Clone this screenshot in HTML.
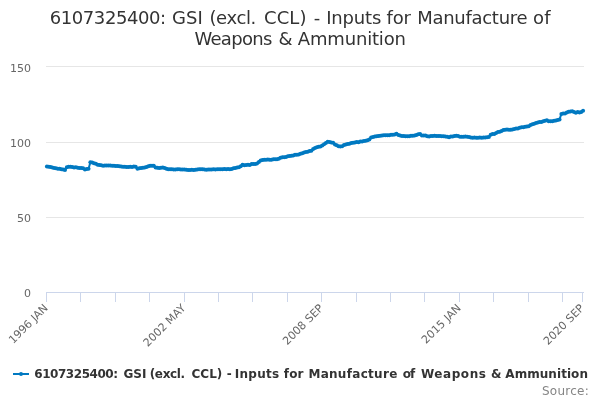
<!DOCTYPE html>
<html><head><meta charset="utf-8"><title>6107325400: GSI (excl. CCL) - Inputs for Manufacture of Weapons &amp; Ammunition</title>
<style>
html,body{margin:0;padding:0;background:#fff;}
body{width:600px;height:400px;overflow:hidden;font-family:"DejaVu Sans", "Liberation Sans", sans-serif;}
svg{display:block;font-family:"DejaVu Sans", "Liberation Sans", sans-serif;}
</style></head><body>
<svg width="600" height="400" viewBox="0 0 600 400">
<rect x="0" y="0" width="600" height="400" fill="#FFFFFF"/>
<g class="grid"><path d="M 46 66.5 L 584 66.5" stroke="#E6E6E6" stroke-width="1" fill="none"/><path d="M 46 142.5 L 584 142.5" stroke="#E6E6E6" stroke-width="1" fill="none"/><path d="M 46 217.5 L 584 217.5" stroke="#E6E6E6" stroke-width="1" fill="none"/></g>
<g class="xaxis"><path d="M 46.5 292 L 46.5 302 M 80.5 292 L 80.5 302 M 115.5 292 L 115.5 302 M 149.5 292 L 149.5 302 M 184.5 292 L 184.5 302 M 218.5 292 L 218.5 302 M 252.5 292 L 252.5 302 M 287.5 292 L 287.5 302 M 321.5 292 L 321.5 302 M 356.5 292 L 356.5 302 M 390.5 292 L 390.5 302 M 424.5 292 L 424.5 302 M 459.5 292 L 459.5 302 M 493.5 292 L 493.5 302 M 528.5 292 L 528.5 302 M 562.5 292 L 562.5 302 M 582.5 292 L 582.5 302" stroke="#CCD6EB" stroke-width="1" fill="none"/><path d="M 46 292.5 L 584 292.5" stroke="#CCD6EB" stroke-width="1" fill="none"/></g>
<g class="series"><path d="M 46.91 166.51 L 48.72 166.82 L 50.53 166.97 L 52.34 167.40 L 54.15 168.01 L 55.96 168.32 L 57.77 168.63 L 59.59 168.78 L 61.40 169.20 L 63.21 169.55 L 65.02 169.88 L 66.83 167.13 L 68.64 166.65 L 70.45 166.71 L 72.27 167.01 L 74.08 167.48 L 75.89 167.37 L 77.70 167.68 L 79.51 168.09 L 81.32 167.89 L 83.13 168.34 L 84.95 169.50 L 86.76 168.93 L 88.57 168.82 L 90.38 162.28 L 92.19 162.54 L 94.00 163.31 L 95.81 163.86 L 97.63 164.87 L 99.44 165.09 L 101.25 165.27 L 103.06 165.70 L 104.87 165.57 L 106.68 165.54 L 108.49 165.42 L 110.31 165.55 L 112.12 165.69 L 113.93 165.66 L 115.74 165.94 L 117.55 165.98 L 119.36 166.23 L 121.18 166.40 L 122.99 166.74 L 124.80 166.83 L 126.61 167.08 L 128.42 167.00 L 130.23 166.66 L 132.04 166.88 L 133.86 166.56 L 135.67 166.81 L 137.48 168.72 L 139.29 168.29 L 141.10 167.96 L 142.91 167.71 L 144.72 167.46 L 146.54 166.88 L 148.35 166.22 L 150.16 165.79 L 151.97 165.71 L 153.78 165.79 L 155.59 167.50 L 157.40 167.83 L 159.22 168.00 L 161.03 167.77 L 162.84 167.54 L 164.65 167.88 L 166.46 168.70 L 168.27 169.20 L 170.08 169.30 L 171.90 169.29 L 173.71 169.60 L 175.52 169.44 L 177.33 169.32 L 179.14 169.18 L 180.95 169.47 L 182.76 169.51 L 184.58 169.52 L 186.39 169.77 L 188.20 169.92 L 190.01 169.91 L 191.82 169.85 L 193.63 169.96 L 195.44 169.64 L 197.26 169.45 L 199.07 169.13 L 200.88 169.16 L 202.69 169.28 L 204.50 169.57 L 206.31 169.77 L 208.12 169.62 L 209.94 169.62 L 211.75 169.62 L 213.56 169.17 L 215.37 169.48 L 217.18 169.16 L 218.99 169.19 L 220.80 169.35 L 222.62 169.33 L 224.43 169.09 L 226.24 169.34 L 228.05 169.09 L 229.86 169.24 L 231.67 168.94 L 233.48 168.27 L 235.30 167.94 L 237.11 167.60 L 238.92 167.24 L 240.73 166.16 L 242.54 164.78 L 244.35 165.16 L 246.16 165.12 L 247.98 164.87 L 249.79 165.02 L 251.60 164.05 L 253.41 164.06 L 255.22 164.03 L 257.03 163.59 L 258.85 161.96 L 260.66 160.47 L 262.47 159.94 L 264.28 159.68 L 266.09 159.78 L 267.90 159.55 L 269.71 159.77 L 271.53 159.76 L 273.34 159.19 L 275.15 159.21 L 276.96 159.13 L 278.77 158.64 L 280.58 157.77 L 282.39 157.15 L 284.21 157.20 L 286.02 156.95 L 287.83 156.37 L 289.64 156.07 L 291.45 155.80 L 293.26 155.45 L 295.07 154.80 L 296.89 154.67 L 298.70 154.39 L 300.51 153.85 L 302.32 153.25 L 304.13 152.50 L 305.94 151.90 L 307.75 151.77 L 309.57 151.07 L 311.38 150.68 L 313.19 148.94 L 315.00 147.96 L 316.81 147.15 L 318.62 146.64 L 320.43 146.41 L 322.25 145.39 L 324.06 144.17 L 325.87 142.94 L 327.68 141.68 L 329.49 142.07 L 331.30 142.51 L 333.11 142.82 L 334.93 144.59 L 336.74 145.23 L 338.55 146.35 L 340.36 146.44 L 342.17 146.28 L 343.98 145.02 L 345.79 144.61 L 347.61 144.05 L 349.42 143.79 L 351.23 143.04 L 353.04 142.77 L 354.85 142.40 L 356.66 142.07 L 358.47 142.15 L 360.29 141.49 L 362.10 141.48 L 363.91 140.91 L 365.72 140.74 L 367.53 140.16 L 369.34 139.46 L 371.15 137.51 L 372.97 137.10 L 374.78 136.59 L 376.59 136.35 L 378.40 135.89 L 380.21 135.69 L 382.02 135.55 L 383.84 135.35 L 385.65 135.14 L 387.46 135.32 L 389.27 135.14 L 391.08 134.69 L 392.89 134.68 L 394.70 134.48 L 396.52 133.68 L 398.33 135.10 L 400.14 135.48 L 401.95 135.94 L 403.76 135.97 L 405.57 136.37 L 407.38 136.24 L 409.20 136.21 L 411.01 135.81 L 412.82 135.74 L 414.63 135.46 L 416.44 134.95 L 418.25 134.31 L 420.06 133.98 L 421.88 135.39 L 423.69 135.59 L 425.50 135.59 L 427.31 136.18 L 429.12 136.40 L 430.93 136.08 L 432.74 136.06 L 434.56 135.73 L 436.37 136.05 L 438.18 135.89 L 439.99 135.99 L 441.80 136.23 L 443.61 136.16 L 445.42 136.48 L 447.24 136.72 L 449.05 137.14 L 450.86 136.57 L 452.67 136.57 L 454.48 136.03 L 456.29 135.68 L 458.10 136.03 L 459.92 136.78 L 461.73 136.84 L 463.54 136.76 L 465.35 136.59 L 467.16 136.83 L 468.97 136.88 L 470.78 137.51 L 472.60 137.74 L 474.41 137.61 L 476.22 137.71 L 478.03 137.76 L 479.84 137.59 L 481.65 137.73 L 483.46 137.43 L 485.28 137.51 L 487.09 137.37 L 488.90 136.92 L 490.71 134.66 L 492.52 134.12 L 494.33 133.91 L 496.14 132.92 L 497.96 131.98 L 499.77 131.82 L 501.58 131.11 L 503.39 129.93 L 505.20 129.77 L 507.01 129.60 L 508.82 129.86 L 510.64 129.73 L 512.45 129.49 L 514.26 128.98 L 516.07 128.49 L 517.88 128.39 L 519.69 127.63 L 521.51 127.28 L 523.32 127.26 L 525.13 126.78 L 526.94 126.46 L 528.75 126.37 L 530.56 125.07 L 532.37 124.27 L 534.19 123.69 L 536.00 123.07 L 537.81 122.48 L 539.62 122.09 L 541.43 121.97 L 543.24 121.29 L 545.05 120.75 L 546.87 120.31 L 548.68 121.13 L 550.49 121.35 L 552.30 121.27 L 554.11 120.64 L 555.92 120.60 L 557.73 120.01 L 559.55 119.40 L 561.36 113.94 L 563.17 113.46 L 564.98 113.40 L 566.79 112.61 L 568.60 111.72 L 570.41 111.53 L 572.23 111.35 L 574.04 112.05 L 575.85 112.70 L 577.66 111.90 L 579.47 112.40 L 581.28 112.12 L 583.09 110.80" fill="none" stroke="#0079C1" stroke-width="2" stroke-linejoin="round" stroke-linecap="round"/><g fill="#0079C1"><circle cx="46.91" cy="166.51" r="2"/><circle cx="48.72" cy="166.82" r="2"/><circle cx="50.53" cy="166.97" r="2"/><circle cx="52.34" cy="167.40" r="2"/><circle cx="54.15" cy="168.01" r="2"/><circle cx="55.96" cy="168.32" r="2"/><circle cx="57.77" cy="168.63" r="2"/><circle cx="59.59" cy="168.78" r="2"/><circle cx="61.40" cy="169.20" r="2"/><circle cx="63.21" cy="169.55" r="2"/><circle cx="65.02" cy="169.88" r="2"/><circle cx="66.83" cy="167.13" r="2"/><circle cx="68.64" cy="166.65" r="2"/><circle cx="70.45" cy="166.71" r="2"/><circle cx="72.27" cy="167.01" r="2"/><circle cx="74.08" cy="167.48" r="2"/><circle cx="75.89" cy="167.37" r="2"/><circle cx="77.70" cy="167.68" r="2"/><circle cx="79.51" cy="168.09" r="2"/><circle cx="81.32" cy="167.89" r="2"/><circle cx="83.13" cy="168.34" r="2"/><circle cx="84.95" cy="169.50" r="2"/><circle cx="86.76" cy="168.93" r="2"/><circle cx="88.57" cy="168.82" r="2"/><circle cx="90.38" cy="162.28" r="2"/><circle cx="92.19" cy="162.54" r="2"/><circle cx="94.00" cy="163.31" r="2"/><circle cx="95.81" cy="163.86" r="2"/><circle cx="97.63" cy="164.87" r="2"/><circle cx="99.44" cy="165.09" r="2"/><circle cx="101.25" cy="165.27" r="2"/><circle cx="103.06" cy="165.70" r="2"/><circle cx="104.87" cy="165.57" r="2"/><circle cx="106.68" cy="165.54" r="2"/><circle cx="108.49" cy="165.42" r="2"/><circle cx="110.31" cy="165.55" r="2"/><circle cx="112.12" cy="165.69" r="2"/><circle cx="113.93" cy="165.66" r="2"/><circle cx="115.74" cy="165.94" r="2"/><circle cx="117.55" cy="165.98" r="2"/><circle cx="119.36" cy="166.23" r="2"/><circle cx="121.18" cy="166.40" r="2"/><circle cx="122.99" cy="166.74" r="2"/><circle cx="124.80" cy="166.83" r="2"/><circle cx="126.61" cy="167.08" r="2"/><circle cx="128.42" cy="167.00" r="2"/><circle cx="130.23" cy="166.66" r="2"/><circle cx="132.04" cy="166.88" r="2"/><circle cx="133.86" cy="166.56" r="2"/><circle cx="135.67" cy="166.81" r="2"/><circle cx="137.48" cy="168.72" r="2"/><circle cx="139.29" cy="168.29" r="2"/><circle cx="141.10" cy="167.96" r="2"/><circle cx="142.91" cy="167.71" r="2"/><circle cx="144.72" cy="167.46" r="2"/><circle cx="146.54" cy="166.88" r="2"/><circle cx="148.35" cy="166.22" r="2"/><circle cx="150.16" cy="165.79" r="2"/><circle cx="151.97" cy="165.71" r="2"/><circle cx="153.78" cy="165.79" r="2"/><circle cx="155.59" cy="167.50" r="2"/><circle cx="157.40" cy="167.83" r="2"/><circle cx="159.22" cy="168.00" r="2"/><circle cx="161.03" cy="167.77" r="2"/><circle cx="162.84" cy="167.54" r="2"/><circle cx="164.65" cy="167.88" r="2"/><circle cx="166.46" cy="168.70" r="2"/><circle cx="168.27" cy="169.20" r="2"/><circle cx="170.08" cy="169.30" r="2"/><circle cx="171.90" cy="169.29" r="2"/><circle cx="173.71" cy="169.60" r="2"/><circle cx="175.52" cy="169.44" r="2"/><circle cx="177.33" cy="169.32" r="2"/><circle cx="179.14" cy="169.18" r="2"/><circle cx="180.95" cy="169.47" r="2"/><circle cx="182.76" cy="169.51" r="2"/><circle cx="184.58" cy="169.52" r="2"/><circle cx="186.39" cy="169.77" r="2"/><circle cx="188.20" cy="169.92" r="2"/><circle cx="190.01" cy="169.91" r="2"/><circle cx="191.82" cy="169.85" r="2"/><circle cx="193.63" cy="169.96" r="2"/><circle cx="195.44" cy="169.64" r="2"/><circle cx="197.26" cy="169.45" r="2"/><circle cx="199.07" cy="169.13" r="2"/><circle cx="200.88" cy="169.16" r="2"/><circle cx="202.69" cy="169.28" r="2"/><circle cx="204.50" cy="169.57" r="2"/><circle cx="206.31" cy="169.77" r="2"/><circle cx="208.12" cy="169.62" r="2"/><circle cx="209.94" cy="169.62" r="2"/><circle cx="211.75" cy="169.62" r="2"/><circle cx="213.56" cy="169.17" r="2"/><circle cx="215.37" cy="169.48" r="2"/><circle cx="217.18" cy="169.16" r="2"/><circle cx="218.99" cy="169.19" r="2"/><circle cx="220.80" cy="169.35" r="2"/><circle cx="222.62" cy="169.33" r="2"/><circle cx="224.43" cy="169.09" r="2"/><circle cx="226.24" cy="169.34" r="2"/><circle cx="228.05" cy="169.09" r="2"/><circle cx="229.86" cy="169.24" r="2"/><circle cx="231.67" cy="168.94" r="2"/><circle cx="233.48" cy="168.27" r="2"/><circle cx="235.30" cy="167.94" r="2"/><circle cx="237.11" cy="167.60" r="2"/><circle cx="238.92" cy="167.24" r="2"/><circle cx="240.73" cy="166.16" r="2"/><circle cx="242.54" cy="164.78" r="2"/><circle cx="244.35" cy="165.16" r="2"/><circle cx="246.16" cy="165.12" r="2"/><circle cx="247.98" cy="164.87" r="2"/><circle cx="249.79" cy="165.02" r="2"/><circle cx="251.60" cy="164.05" r="2"/><circle cx="253.41" cy="164.06" r="2"/><circle cx="255.22" cy="164.03" r="2"/><circle cx="257.03" cy="163.59" r="2"/><circle cx="258.85" cy="161.96" r="2"/><circle cx="260.66" cy="160.47" r="2"/><circle cx="262.47" cy="159.94" r="2"/><circle cx="264.28" cy="159.68" r="2"/><circle cx="266.09" cy="159.78" r="2"/><circle cx="267.90" cy="159.55" r="2"/><circle cx="269.71" cy="159.77" r="2"/><circle cx="271.53" cy="159.76" r="2"/><circle cx="273.34" cy="159.19" r="2"/><circle cx="275.15" cy="159.21" r="2"/><circle cx="276.96" cy="159.13" r="2"/><circle cx="278.77" cy="158.64" r="2"/><circle cx="280.58" cy="157.77" r="2"/><circle cx="282.39" cy="157.15" r="2"/><circle cx="284.21" cy="157.20" r="2"/><circle cx="286.02" cy="156.95" r="2"/><circle cx="287.83" cy="156.37" r="2"/><circle cx="289.64" cy="156.07" r="2"/><circle cx="291.45" cy="155.80" r="2"/><circle cx="293.26" cy="155.45" r="2"/><circle cx="295.07" cy="154.80" r="2"/><circle cx="296.89" cy="154.67" r="2"/><circle cx="298.70" cy="154.39" r="2"/><circle cx="300.51" cy="153.85" r="2"/><circle cx="302.32" cy="153.25" r="2"/><circle cx="304.13" cy="152.50" r="2"/><circle cx="305.94" cy="151.90" r="2"/><circle cx="307.75" cy="151.77" r="2"/><circle cx="309.57" cy="151.07" r="2"/><circle cx="311.38" cy="150.68" r="2"/><circle cx="313.19" cy="148.94" r="2"/><circle cx="315.00" cy="147.96" r="2"/><circle cx="316.81" cy="147.15" r="2"/><circle cx="318.62" cy="146.64" r="2"/><circle cx="320.43" cy="146.41" r="2"/><circle cx="322.25" cy="145.39" r="2"/><circle cx="324.06" cy="144.17" r="2"/><circle cx="325.87" cy="142.94" r="2"/><circle cx="327.68" cy="141.68" r="2"/><circle cx="329.49" cy="142.07" r="2"/><circle cx="331.30" cy="142.51" r="2"/><circle cx="333.11" cy="142.82" r="2"/><circle cx="334.93" cy="144.59" r="2"/><circle cx="336.74" cy="145.23" r="2"/><circle cx="338.55" cy="146.35" r="2"/><circle cx="340.36" cy="146.44" r="2"/><circle cx="342.17" cy="146.28" r="2"/><circle cx="343.98" cy="145.02" r="2"/><circle cx="345.79" cy="144.61" r="2"/><circle cx="347.61" cy="144.05" r="2"/><circle cx="349.42" cy="143.79" r="2"/><circle cx="351.23" cy="143.04" r="2"/><circle cx="353.04" cy="142.77" r="2"/><circle cx="354.85" cy="142.40" r="2"/><circle cx="356.66" cy="142.07" r="2"/><circle cx="358.47" cy="142.15" r="2"/><circle cx="360.29" cy="141.49" r="2"/><circle cx="362.10" cy="141.48" r="2"/><circle cx="363.91" cy="140.91" r="2"/><circle cx="365.72" cy="140.74" r="2"/><circle cx="367.53" cy="140.16" r="2"/><circle cx="369.34" cy="139.46" r="2"/><circle cx="371.15" cy="137.51" r="2"/><circle cx="372.97" cy="137.10" r="2"/><circle cx="374.78" cy="136.59" r="2"/><circle cx="376.59" cy="136.35" r="2"/><circle cx="378.40" cy="135.89" r="2"/><circle cx="380.21" cy="135.69" r="2"/><circle cx="382.02" cy="135.55" r="2"/><circle cx="383.84" cy="135.35" r="2"/><circle cx="385.65" cy="135.14" r="2"/><circle cx="387.46" cy="135.32" r="2"/><circle cx="389.27" cy="135.14" r="2"/><circle cx="391.08" cy="134.69" r="2"/><circle cx="392.89" cy="134.68" r="2"/><circle cx="394.70" cy="134.48" r="2"/><circle cx="396.52" cy="133.68" r="2"/><circle cx="398.33" cy="135.10" r="2"/><circle cx="400.14" cy="135.48" r="2"/><circle cx="401.95" cy="135.94" r="2"/><circle cx="403.76" cy="135.97" r="2"/><circle cx="405.57" cy="136.37" r="2"/><circle cx="407.38" cy="136.24" r="2"/><circle cx="409.20" cy="136.21" r="2"/><circle cx="411.01" cy="135.81" r="2"/><circle cx="412.82" cy="135.74" r="2"/><circle cx="414.63" cy="135.46" r="2"/><circle cx="416.44" cy="134.95" r="2"/><circle cx="418.25" cy="134.31" r="2"/><circle cx="420.06" cy="133.98" r="2"/><circle cx="421.88" cy="135.39" r="2"/><circle cx="423.69" cy="135.59" r="2"/><circle cx="425.50" cy="135.59" r="2"/><circle cx="427.31" cy="136.18" r="2"/><circle cx="429.12" cy="136.40" r="2"/><circle cx="430.93" cy="136.08" r="2"/><circle cx="432.74" cy="136.06" r="2"/><circle cx="434.56" cy="135.73" r="2"/><circle cx="436.37" cy="136.05" r="2"/><circle cx="438.18" cy="135.89" r="2"/><circle cx="439.99" cy="135.99" r="2"/><circle cx="441.80" cy="136.23" r="2"/><circle cx="443.61" cy="136.16" r="2"/><circle cx="445.42" cy="136.48" r="2"/><circle cx="447.24" cy="136.72" r="2"/><circle cx="449.05" cy="137.14" r="2"/><circle cx="450.86" cy="136.57" r="2"/><circle cx="452.67" cy="136.57" r="2"/><circle cx="454.48" cy="136.03" r="2"/><circle cx="456.29" cy="135.68" r="2"/><circle cx="458.10" cy="136.03" r="2"/><circle cx="459.92" cy="136.78" r="2"/><circle cx="461.73" cy="136.84" r="2"/><circle cx="463.54" cy="136.76" r="2"/><circle cx="465.35" cy="136.59" r="2"/><circle cx="467.16" cy="136.83" r="2"/><circle cx="468.97" cy="136.88" r="2"/><circle cx="470.78" cy="137.51" r="2"/><circle cx="472.60" cy="137.74" r="2"/><circle cx="474.41" cy="137.61" r="2"/><circle cx="476.22" cy="137.71" r="2"/><circle cx="478.03" cy="137.76" r="2"/><circle cx="479.84" cy="137.59" r="2"/><circle cx="481.65" cy="137.73" r="2"/><circle cx="483.46" cy="137.43" r="2"/><circle cx="485.28" cy="137.51" r="2"/><circle cx="487.09" cy="137.37" r="2"/><circle cx="488.90" cy="136.92" r="2"/><circle cx="490.71" cy="134.66" r="2"/><circle cx="492.52" cy="134.12" r="2"/><circle cx="494.33" cy="133.91" r="2"/><circle cx="496.14" cy="132.92" r="2"/><circle cx="497.96" cy="131.98" r="2"/><circle cx="499.77" cy="131.82" r="2"/><circle cx="501.58" cy="131.11" r="2"/><circle cx="503.39" cy="129.93" r="2"/><circle cx="505.20" cy="129.77" r="2"/><circle cx="507.01" cy="129.60" r="2"/><circle cx="508.82" cy="129.86" r="2"/><circle cx="510.64" cy="129.73" r="2"/><circle cx="512.45" cy="129.49" r="2"/><circle cx="514.26" cy="128.98" r="2"/><circle cx="516.07" cy="128.49" r="2"/><circle cx="517.88" cy="128.39" r="2"/><circle cx="519.69" cy="127.63" r="2"/><circle cx="521.51" cy="127.28" r="2"/><circle cx="523.32" cy="127.26" r="2"/><circle cx="525.13" cy="126.78" r="2"/><circle cx="526.94" cy="126.46" r="2"/><circle cx="528.75" cy="126.37" r="2"/><circle cx="530.56" cy="125.07" r="2"/><circle cx="532.37" cy="124.27" r="2"/><circle cx="534.19" cy="123.69" r="2"/><circle cx="536.00" cy="123.07" r="2"/><circle cx="537.81" cy="122.48" r="2"/><circle cx="539.62" cy="122.09" r="2"/><circle cx="541.43" cy="121.97" r="2"/><circle cx="543.24" cy="121.29" r="2"/><circle cx="545.05" cy="120.75" r="2"/><circle cx="546.87" cy="120.31" r="2"/><circle cx="548.68" cy="121.13" r="2"/><circle cx="550.49" cy="121.35" r="2"/><circle cx="552.30" cy="121.27" r="2"/><circle cx="554.11" cy="120.64" r="2"/><circle cx="555.92" cy="120.60" r="2"/><circle cx="557.73" cy="120.01" r="2"/><circle cx="559.55" cy="119.40" r="2"/><circle cx="561.36" cy="113.94" r="2"/><circle cx="563.17" cy="113.46" r="2"/><circle cx="564.98" cy="113.40" r="2"/><circle cx="566.79" cy="112.61" r="2"/><circle cx="568.60" cy="111.72" r="2"/><circle cx="570.41" cy="111.53" r="2"/><circle cx="572.23" cy="111.35" r="2"/><circle cx="574.04" cy="112.05" r="2"/><circle cx="575.85" cy="112.70" r="2"/><circle cx="577.66" cy="111.90" r="2"/><circle cx="579.47" cy="112.40" r="2"/><circle cx="581.28" cy="112.12" r="2"/><circle cx="583.09" cy="110.80" r="2"/></g></g>
<text x="51" y="24" font-size="18px" fill="#333333"><tspan x="49.74" y="24" letter-spacing="-0.423px">6107325400: </tspan><tspan x="171.99" y="24" letter-spacing="0.047px">GSI </tspan><tspan x="209.45" y="24" letter-spacing="-0.376px">(excl. </tspan><tspan x="263.99" y="24" letter-spacing="0.123px">CCL) </tspan><tspan x="313.65" y="24" letter-spacing="0.000px">- </tspan><tspan x="326.23" y="24" letter-spacing="-0.188px">Inputs </tspan><tspan x="386.59" y="24" letter-spacing="-0.168px">for </tspan><tspan x="417.23" y="24" letter-spacing="-0.286px">Manufacture </tspan><tspan x="533.01" y="24" letter-spacing="0.301px">of</tspan><tspan x="194.40" y="45" letter-spacing="-0.675px">Weapons </tspan><tspan x="278.49" y="45" letter-spacing="0.000px">&amp; </tspan><tspan x="297.86" y="45" letter-spacing="-0.179px">Ammunition</tspan></text>
<g class="legend"><path d="M 13 374 L 29 374" stroke="#0079C1" stroke-width="2" fill="none"/><circle cx="21" cy="374" r="2" fill="#0079C1"/><text x="34" y="378" font-size="12px" font-weight="bold" fill="#333333"><tspan x="34.26" y="378" letter-spacing="-0.451px">6107325400: </tspan><tspan x="123.60" y="378" letter-spacing="-0.076px">GSI </tspan><tspan x="149.77" y="378" letter-spacing="-0.379px">(excl. </tspan><tspan x="191.40" y="378" letter-spacing="0.062px">CCL) </tspan><tspan x="226.66" y="378" letter-spacing="0.000px">- </tspan><tspan x="234.70" y="378" letter-spacing="0.310px">Inputs </tspan><tspan x="283.77" y="378" letter-spacing="0.190px">for </tspan><tspan x="308.40" y="378" letter-spacing="0.299px">Manufacture </tspan><tspan x="402.78" y="378" letter-spacing="-1.055px">of </tspan><tspan x="420.94" y="378" letter-spacing="0.572px">Weapons </tspan><tspan x="490.96" y="378" letter-spacing="0.000px">&amp; </tspan><tspan x="505.34" y="378" letter-spacing="0.052px">Ammunition</tspan></text></g>
<g class="xlabels" font-size="11px" fill="#666666"><text x="48.7" y="308.7" text-anchor="end" transform="rotate(-45 48.7 308.7)">1996 JAN</text><text x="186.3" y="308.7" text-anchor="end" transform="rotate(-45 186.3 308.7)">2002 MAY</text><text x="324.0" y="308.7" text-anchor="end" transform="rotate(-45 324.0 308.7)">2008 SEP</text><text x="461.7" y="308.7" text-anchor="end" transform="rotate(-45 461.7 308.7)">2015 JAN</text><text x="584.8" y="308.7" text-anchor="end" transform="rotate(-45 584.8 308.7)">2020 SEP</text></g>
<g class="ylabels" font-size="11px" fill="#666666"><text x="31" y="72" text-anchor="end">150</text><text x="31" y="147" text-anchor="end">100</text><text x="31" y="222" text-anchor="end">50</text><text x="31" y="297" text-anchor="end">0</text></g>
<text x="589" y="395" text-anchor="end" font-size="12px" fill="#858585" letter-spacing="0.25px">Source:</text>
</svg>
</body></html>
